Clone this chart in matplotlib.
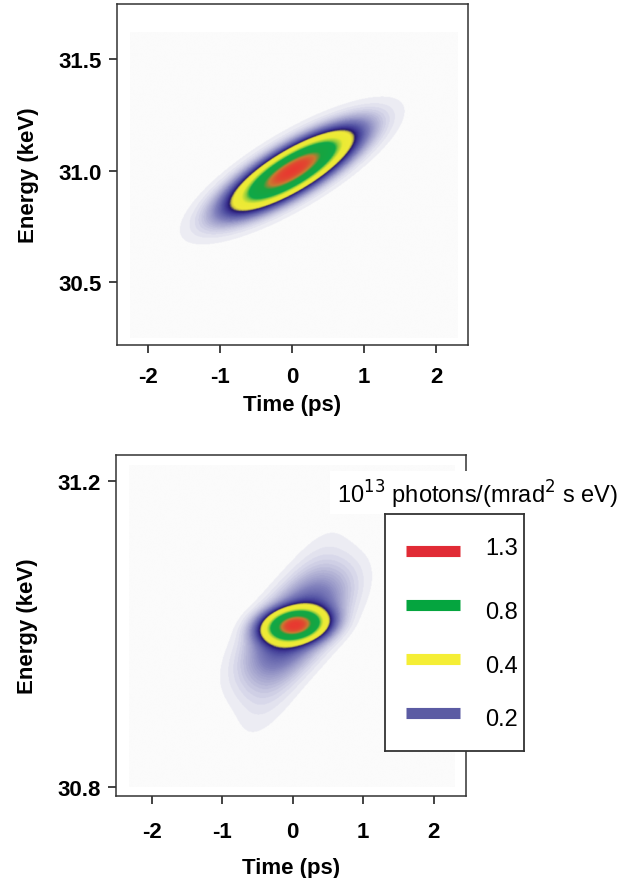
import numpy as np
import matplotlib
matplotlib.use("Agg")
import matplotlib.pyplot as plt
from matplotlib.colors import LinearSegmentedColormap, Normalize
from matplotlib.patches import Rectangle

plt.rcParams['font.family'] = ['Liberation Sans', 'DejaVu Sans']

# ---------------- data ----------------
# Axis ticks
top_xticks = [-2, -1, 0, 1, 2]
top_yticks = [30.5, 31.0, 31.5]
top_ytick_labels = ['30.5', '31.0', '31.5']
bot_xticks = [-2, -1, 0, 1, 2]
bot_yticks = [30.8, 31.2]
bot_ytick_labels = ['30.8', '31.2']

# Top panel: Gaussian components (time centre ps, energy centre keV, amplitude,
# time width ps, energy width keV, energy-time chirp keV/ps)
top_t0 = [0.0, 0.0]
top_E0 = [31.0, 31.0]
top_amp = [1.42, 0.03]
top_sig_t = [0.435, 0.75]
top_sig_E = [0.054, 0.10]
top_chirp = [0.17, 0.17]

# Bottom panel components: core, halo, faint haze
bot_t0 = [0.03, 0.05, -0.02]
bot_E0 = [31.011, 31.01, 31.0]
bot_amp = [1.30, 0.15, 0.035]
bot_sig_t = [0.24, 0.42, 0.38]
bot_sig_E = [0.012, 0.03, 0.045]
bot_chirp = [0.01, 0.06, 0.13]

# Legend (10^13 photons/(mrad^2 s eV))
legend_levels = [1.3, 0.8, 0.4, 0.2]
legend_colors = ['#e12b35', '#05a53f', '#f5ee35', '#5b5ba3']

# Colour scale of the intensity maps
cmap_values = [0.0, 0.004, 0.015, 0.04, 0.08, 0.13, 0.17, 0.2, 0.23, 0.26, 0.4,
               0.5, 0.58, 0.95, 1.12, 1.3, 1.45]
cmap_colors = ['#fbfbfb', '#f0f0f5', '#dcdcec', '#b4b4d6', '#8080bc', '#5454a4',
               '#3a3290', '#24186c', '#c8c040', '#f0ea38', '#eaea34', '#90cc3c',
               '#10a848', '#18a440', '#c87a30', '#e04a30', '#e83a30']
vmax = cmap_values[-1]
cmap = LinearSegmentedColormap.from_list(
    'beam', list(zip(np.array(cmap_values) / vmax, cmap_colors)))
norm = Normalize(vmin=0, vmax=vmax)


def intensity(t, E, t0s, E0s, amps, sts, ses, chirps):
    total = np.zeros_like(t)
    for t0, E0, a, st, se, k in zip(t0s, E0s, amps, sts, ses, chirps):
        dt = t - t0
        dE = E - E0 - k * dt
        total += a * np.exp(-dt ** 2 / (2 * st ** 2) - dE ** 2 / (2 * se ** 2))
    return total


fig = plt.figure(figsize=(6.42, 8.79), dpi=100)

bold = dict(fontsize=16, fontweight='bold')


def style_axes(ax, xticks, yticks, yticklabels, xpad, xlabelpad, ylabelpad):
    ax.set_xticks(xticks)
    ax.set_xticklabels([str(v) for v in xticks], **bold)
    ax.set_yticks(yticks)
    ax.set_yticklabels(yticklabels, **bold)
    ax.tick_params(axis='both', direction='out', length=6, width=1.2,
                   color='#222222', top=False, right=False)
    ax.tick_params(axis='x', pad=xpad)
    ax.tick_params(axis='y', pad=5)
    for s in ax.spines.values():
        s.set_color('#333333')
        s.set_linewidth(1.1)
    ax.set_xlabel('Time (ps)', labelpad=xlabelpad, **bold)
    ax.set_ylabel('Energy (keV)', labelpad=ylabelpad, **bold)


# ---------------- top panel ----------------
ax1 = fig.add_axes([0.1822, 0.6064, 0.5467, 0.3879])
ext1 = [-2.25, 2.3, 30.25, 31.62]
t1, E1 = np.meshgrid(np.linspace(ext1[0], ext1[1], 500), np.linspace(ext1[2], ext1[3], 500))
I1 = intensity(t1, E1, top_t0, top_E0, top_amp, top_sig_t, top_sig_E, top_chirp)
ax1.imshow(I1, origin='lower', extent=ext1, aspect='auto', cmap=cmap, norm=norm,
           interpolation='bilinear')
ax1.set_xlim(-2.43, 2.44)
ax1.set_ylim(30.219, 31.746)
style_axes(ax1, top_xticks, top_yticks, top_ytick_labels, 9, 5, 14)

# ---------------- bottom panel ----------------
ax2 = fig.add_axes([0.1802, 0.0936, 0.5452, 0.3876])
ext2 = [-2.32, 2.3, 30.8, 31.22]
t2, E2 = np.meshgrid(np.linspace(ext2[0], ext2[1], 500), np.linspace(ext2[2], ext2[3], 500))
I2 = intensity(t2, E2, bot_t0, bot_E0, bot_amp, bot_sig_t, bot_sig_E, bot_chirp)
ax2.imshow(I2, origin='lower', extent=ext2, aspect='auto', cmap=cmap, norm=norm,
           interpolation='bilinear')
ax2.set_xlim(-2.51, 2.454)
ax2.set_ylim(30.789, 31.2335)
style_axes(ax2, bot_xticks, bot_yticks, bot_ytick_labels, 12, 11, 14)

# white strip behind the legend title (interrupts the right spine)
fig.patches.append(Rectangle((330 / 642, 1 - 515 / 879), 295 / 642, 43 / 879,
                             transform=fig.transFigure, facecolor='white',
                             edgecolor='none', zorder=5))
fig.text(477 / 642, 1 - 504 / 879, r'10$^{13}$ photons/(mrad$^{2}$ s eV)',
         ha='center', va='baseline', fontsize=17, zorder=6)

# ---------------- legend box ----------------
lax = fig.add_axes([385 / 642, 1 - 752 / 879, 139 / 642, 237 / 879], zorder=10)
lax.set_xlim(0, 1)
lax.set_ylim(0, 1)
lax.set_xticks([])
lax.set_yticks([])
for s in lax.spines.values():
    s.set_color('#333333')
    s.set_linewidth(1.3)
sw_y = [0.844, 0.616, 0.388, 0.160]
lab_y = [0.857, 0.586, 0.359, 0.135]
for lvl, col, y, ly in zip(legend_levels, legend_colors, sw_y, lab_y):
    lax.plot([0.151, 0.54], [y, y], color=col, linewidth=8, solid_capstyle='butt')
    lax.text(0.72, ly, f'{lvl:.1f}', ha='left', va='center', fontsize=17)

fig.savefig('out.png', dpi=100)
